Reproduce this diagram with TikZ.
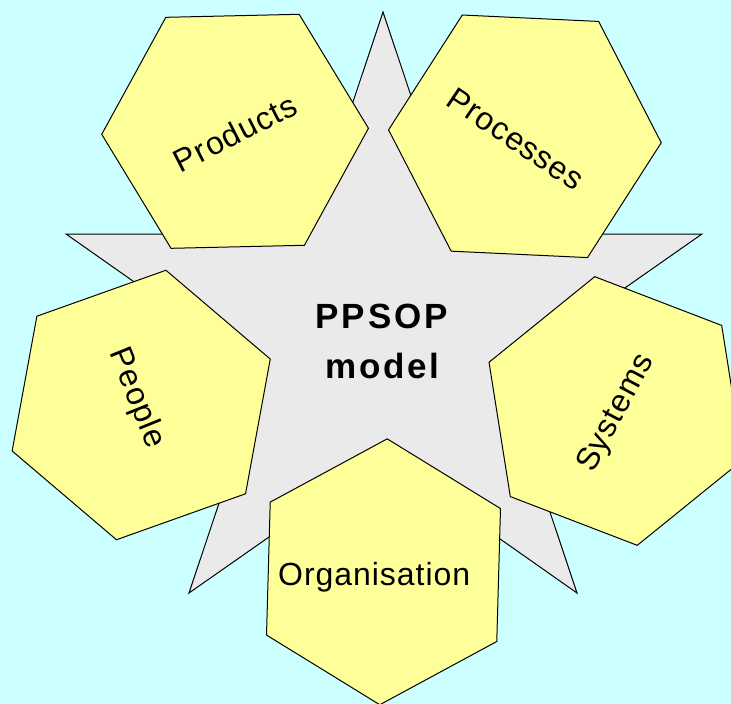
\documentclass[tikz,border=0pt]{standalone}
\usepackage{fontspec}
\setmainfont{Liberation Sans}
\usetikzlibrary{shapes.geometric}
\definecolor{bgcyan}{RGB}{204,255,255}
\definecolor{hexfill}{RGB}{255,255,153}
\definecolor{starfill}{RGB}{234,234,234}
\begin{document}
\begin{tikzpicture}[x=1pt,y=-1pt,
  hexa/.style={regular polygon, regular polygon sides=6, draw=black,
    line width=1pt, fill=hexfill, inner sep=0pt, outer sep=0pt},
  starshape/.style={draw=black, line width=1pt, fill=starfill, line join=miter},
  lbl/.style={font=\fontsize{32}{38}\selectfont\addfontfeature{LetterSpace=3},
    text=black, inner sep=0pt},
  title/.style={font=\fontsize{35}{42}\selectfont\bfseries\addfontfeature{LetterSpace=8},
    text=black, inner sep=0pt, anchor=base}]
% canvas
\fill[bgcyan] (0,0) rectangle (731,704);
\useasboundingbox (0,0) rectangle (731,704);
\clip (0,0) rectangle (731,704);

% five-pointed star: outer tips and inner corners
\coordinate (T)  at (383,12);
\coordinate (L)  at (66,234);
\coordinate (R)  at (702,234);
\coordinate (BL) at (189,593);
\coordinate (BR) at (577,593);
\coordinate (A) at (intersection of T--BL and L--R);
\coordinate (B) at (intersection of T--BR and L--R);
\coordinate (C) at (intersection of T--BL and L--BR);
\coordinate (D) at (intersection of T--BR and R--BL);
\coordinate (E) at (intersection of L--BR and R--BL);
\draw[starshape] (T) -- (B) -- (R) -- (D) -- (BR) -- (E) -- (BL) -- (C) -- (L) -- (A) -- cycle;

% hexagons
\node[hexa, minimum size=266.8pt, shape border rotate=1.3]  (prod) at (235.1,131.3) {};
\node[hexa, minimum size=273pt,   shape border rotate=-2.7] (proc) at (524.9,136.3) {};
\node[hexa, minimum size=274pt,   shape border rotate=19.6] (peop) at (141.2,405) {};
\node[hexa, minimum size=272pt,   shape border rotate=39]   (syst) at (616,411) {};
\node[hexa, minimum size=266pt,   shape border rotate=28.4] (orga) at (383.5,571.8) {};

% labels
\node[lbl, rotate=27]  (prodtxt) at (235,133) {Products};
\node[lbl, rotate=-34] (proctxt) at (515.8,139) {Processes};
\node[lbl, rotate=-68] (peoptxt) at (136.7,398.3) {People};
\node[lbl, rotate=62]  (systtxt) at (616.7,413.3) {Systems};
\node[lbl, anchor=base] (orgatxt) at (374.2,585) {Organisation};

\node[title] (ppsop) at (381.7,328.3) {PPSOP};
\node[title] (model) at (382.5,378.3) {model};
\end{tikzpicture}
\end{document}
